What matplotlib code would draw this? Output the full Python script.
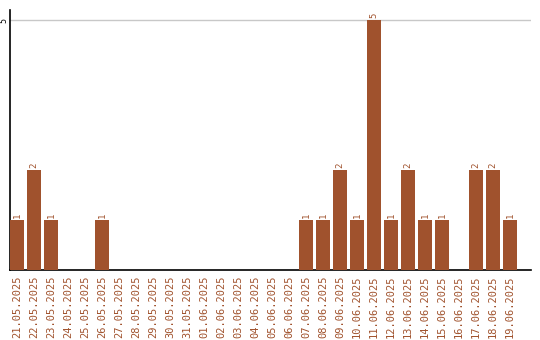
import matplotlib
matplotlib.use("Agg")
import matplotlib.pyplot as plt

dates = ["21.05.2025", "22.05.2025", "23.05.2025", "24.05.2025", "25.05.2025",
         "26.05.2025", "27.05.2025", "28.05.2025", "29.05.2025", "30.05.2025",
         "31.05.2025", "01.06.2025", "02.06.2025", "03.06.2025", "04.06.2025",
         "05.06.2025", "06.06.2025", "07.06.2025", "08.06.2025", "09.06.2025",
         "10.06.2025", "11.06.2025", "12.06.2025", "13.06.2025", "14.06.2025",
         "15.06.2025", "16.06.2025", "17.06.2025", "18.06.2025", "19.06.2025"]
counts = [1, 2, 1, 0, 0, 1, 0, 0, 0, 0,
          0, 0, 0, 0, 0, 0, 0, 1, 1, 2,
          1, 5, 1, 2, 1, 1, 0, 2, 2, 1]

brown = "#A0522D"

fig = plt.figure(figsize=(5.4, 3.4), dpi=100)
ax = fig.add_axes([10/540, 70/340, 521/540, 260/340])

x = list(range(len(dates)))
w = 14/17
ax.bar(x, counts, width=w, align="edge", color=brown, zorder=3)
for xi, c in zip(x, counts):
    if c > 0:
        ax.text(xi + w/2, c + 0.04, str(c), rotation=90, ha="center", va="bottom",
                fontsize=6.5, color=brown, family="DejaVu Sans Mono")

ax.set_xlim(0, 521/17)
ax.set_ylim(0, 5.2)
ax.set_yticks([5])
ax.set_yticklabels(["5"], rotation=90, va="center", fontsize=6, family="DejaVu Sans Mono")
ax.yaxis.grid(True, color="#c8c8c8", linewidth=1)
ax.set_axisbelow(True)
ax.tick_params(axis="y", length=0, pad=1)
ax.set_xticks([xi + w/2 for xi in x])
ax.set_xticklabels(dates, rotation=90, fontsize=7.5, color=brown, family="DejaVu Sans Mono")
ax.tick_params(axis="x", length=0, pad=4)

ax.spines["top"].set_visible(False)
ax.spines["right"].set_visible(False)
ax.spines["left"].set_linewidth(1.2)
ax.spines["bottom"].set_linewidth(1.2)

fig.savefig("out.png", dpi=100)
